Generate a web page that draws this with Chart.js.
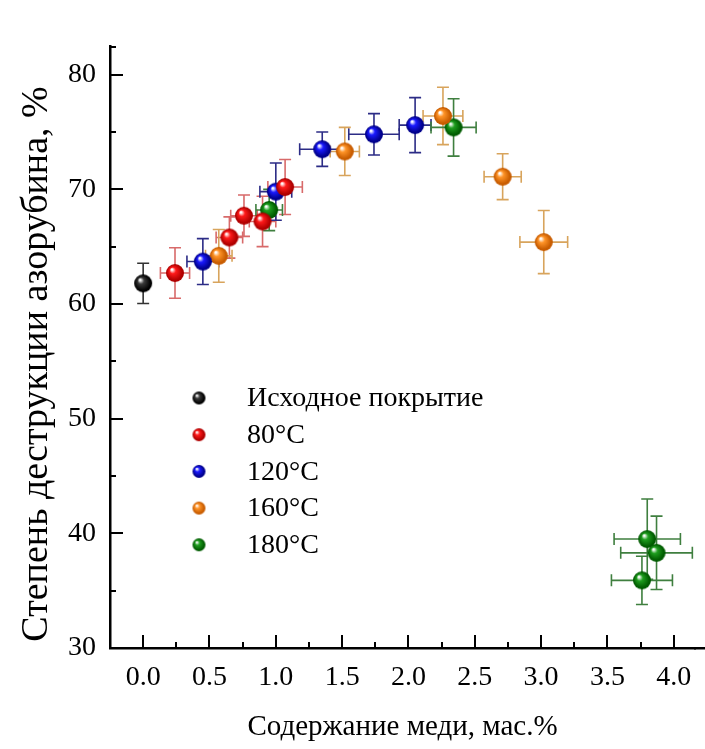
<!DOCTYPE html>
<html lang="ru">
<head>
    <meta charset="UTF-8">
    <title>Степень деструкции азорубина</title>
    <script src="https://cdn.jsdelivr.net/npm/chart.js"></script>
    <style>
        body {
            margin: 0;
            background: #fff;
            overflow: hidden;
        }
    </style>
</head>
<body>
    <canvas id="chart" width="705" height="749"></canvas>

    <script>
        // data
        const seriesNames = ['Исходное покрытие', '80°C', '120°C', '160°C', '180°C'];

        const baseX = [0.0];
        const baseY = [61.8];
        const baseXErr = [0];
        const baseYErr = [1.75];

        const t80X = [0.24, 0.65, 0.76, 0.90, 1.07];
        const t80Y = [62.7, 65.8, 67.7, 67.2, 70.2];
        const t80XErr = [0.11, 0.10, 0.10, 0.10, 0.13];
        const t80YErr = [2.2, 1.8, 1.8, 2.2, 2.4];

        const t120X = [0.45, 1.00, 1.35, 1.74, 2.05];
        const t120Y = [63.7, 69.8, 73.5, 74.8, 75.6];
        const t120XErr = [0.12, 0.12, 0.17, 0.19, 0.12];
        const t120YErr = [2.0, 2.5, 1.5, 1.8, 2.4];

        const t160X = [0.57, 1.52, 2.26, 2.71, 3.02];
        const t160Y = [64.2, 73.3, 76.4, 71.1, 65.4];
        const t160XErr = [0.10, 0.11, 0.15, 0.14, 0.18];
        const t160YErr = [2.3, 2.1, 2.5, 2.0, 2.75];

        const t180X = [0.95, 2.34, 3.80, 3.87, 3.76];
        const t180Y = [68.2, 75.4, 39.5, 38.3, 35.9];
        const t180XErr = [0.10, 0.17, 0.25, 0.27, 0.23];
        const t180YErr = [1.8, 2.5, 3.5, 3.2, 2.1];

        const xTicks = [0.0, 0.5, 1.0, 1.5, 2.0, 2.5, 3.0, 3.5, 4.0];
        const yTicks = [30, 40, 50, 60, 70, 80];

        const yTitle = 'Степень деструкции азорубина, %';
        const serif = "'Liberation Serif', 'DejaVu Serif', serif";

        // shaded ball used as marker
        function makeBall(color, dark, r) {
            const c = document.createElement('canvas');
            c.width = c.height = 2 * r + 2;
            const g = c.getContext('2d');
            const cx = r + 1, cy = r + 1;
            const grad = g.createRadialGradient(cx - r * 0.35, cy - r * 0.4, r * 0.08, cx, cy, r);
            grad.addColorStop(0, '#ffffff');
            grad.addColorStop(0.3, color);
            grad.addColorStop(0.85, dark);
            grad.addColorStop(1, dark);
            g.fillStyle = grad;
            g.beginPath();
            g.arc(cx, cy, r, 0, Math.PI * 2);
            g.fill();
            return c;
        }

        const colors = [
            { main: '#3a3a3a', dark: '#000000', err: '#333333' },
            { main: '#ff1a1a', dark: '#b00000', err: '#d86a6a' },
            { main: '#1a1aff', dark: '#00008c', err: '#2c2c86' },
            { main: '#ff9428', dark: '#c85c00', err: '#d8a45c' },
            { main: '#1f9e1f', dark: '#005c00', err: '#3f7f3f' }
        ];

        function pts(xs, ys) {
            return xs.map((x, i) => ({ x: x, y: ys[i] }));
        }

        const allX = [baseX, t80X, t120X, t160X, t180X];
        const allY = [baseY, t80Y, t120Y, t160Y, t180Y];
        const allXErr = [baseXErr, t80XErr, t120XErr, t160XErr, t180XErr];
        const allYErr = [baseYErr, t80YErr, t120YErr, t160YErr, t180YErr];

        const datasets = seriesNames.map((name, i) => ({
            label: name,
            data: pts(allX[i], allY[i]),
            xErr: allXErr[i],
            yErr: allYErr[i],
            errColor: colors[i].err,
            pointStyle: makeBall(colors[i].main, colors[i].dark, 9),
            legendBall: makeBall(colors[i].main, colors[i].dark, 6.5),
            showLine: false
        }));

        // error bars, drawn under the balls
        const errorBars = {
            id: 'errorBars',
            beforeDatasetsDraw(chart) {
                const ctx = chart.ctx;
                const xs = chart.scales.x, ys = chart.scales.y;
                const cap = 6;
                ctx.save();
                ctx.lineWidth = 1.6;
                chart.data.datasets.forEach(ds => {
                    ctx.strokeStyle = ds.errColor;
                    ds.data.forEach((p, i) => {
                        const px = xs.getPixelForValue(p.x);
                        const py = ys.getPixelForValue(p.y);
                        const ex = ds.xErr[i], ey = ds.yErr[i];
                        ctx.beginPath();
                        if (ey) {
                            const y1 = ys.getPixelForValue(p.y + ey);
                            const y2 = ys.getPixelForValue(p.y - ey);
                            ctx.moveTo(px, y1); ctx.lineTo(px, y2);
                            ctx.moveTo(px - cap, y1); ctx.lineTo(px + cap, y1);
                            ctx.moveTo(px - cap, y2); ctx.lineTo(px + cap, y2);
                        }
                        if (ex) {
                            const x1 = xs.getPixelForValue(p.x - ex);
                            const x2 = xs.getPixelForValue(p.x + ex);
                            ctx.moveTo(x1, py); ctx.lineTo(x2, py);
                            ctx.moveTo(x1, py - cap); ctx.lineTo(x1, py + cap);
                            ctx.moveTo(x2, py - cap); ctx.lineTo(x2, py + cap);
                        }
                        ctx.stroke();
                    });
                });
                ctx.restore();
            }
        };

        // inward tick marks (major + minor) on both axes, plus the y title
        const innerTicks = {
            id: 'innerTicks',
            afterDraw(chart) {
                const ctx = chart.ctx;
                const xs = chart.scales.x, ys = chart.scales.y;
                const a = chart.chartArea;
                ctx.save();
                ctx.strokeStyle = '#000';
                ctx.lineWidth = 2;
                ctx.beginPath();
                for (let v = 0; v <= xs.max + 1e-9; v += 0.25) {
                    const px = Math.round(xs.getPixelForValue(v));
                    const len = Math.abs(v * 2 - Math.round(v * 2)) < 1e-6 ? 13 : 6;
                    ctx.moveTo(px, a.bottom); ctx.lineTo(px, a.bottom - len);
                }
                for (let v = 35; v <= ys.max + 1e-9; v += 5) {
                    const py = Math.round(ys.getPixelForValue(v));
                    const len = v % 10 === 0 ? 13 : 6;
                    ctx.moveTo(a.left, py); ctx.lineTo(a.left + len, py);
                }
                ctx.moveTo(a.left, a.top + 1); ctx.lineTo(a.left + 6, a.top + 1);
                ctx.stroke();

                // the bottom axis runs on to the edge of the figure
                ctx.lineWidth = 2.5;
                ctx.beginPath();
                ctx.moveTo(a.right - 1, a.bottom + 0.25);
                ctx.lineTo(chart.width, a.bottom + 0.25);
                ctx.stroke();

                ctx.translate(37, 364);
                ctx.rotate(-Math.PI / 2);
                ctx.font = '38px ' + serif;
                ctx.fillStyle = '#000';
                ctx.textAlign = 'center';
                ctx.textBaseline = 'middle';
                ctx.fillText(yTitle, 0, 0);
                ctx.restore();
            }
        };

        // legend sitting inside the plot
        const innerLegend = {
            id: 'innerLegend',
            afterDraw(chart) {
                const ctx = chart.ctx;
                ctx.save();
                ctx.font = '28px ' + serif;
                ctx.fillStyle = '#000';
                ctx.textBaseline = 'middle';
                chart.data.datasets.forEach((ds, i) => {
                    const y = 398 + i * 36.7;
                    const b = ds.legendBall;
                    ctx.drawImage(b, 199 - b.width / 2, y - b.height / 2);
                    ctx.fillText(ds.label, 247, y + 1);
                });
                ctx.restore();
            }
        };

        new Chart(document.getElementById('chart'), {
            type: 'scatter',
            data: { datasets: datasets },
            plugins: [errorBars, innerTicks, innerLegend],
            options: {
                responsive: false,
                animation: false,
                layout: { padding: { top: 46, right: 2, left: 0, bottom: 0 } },
                plugins: {
                    legend: { display: false },
                    tooltip: { enabled: false }
                },
                elements: { point: { radius: 9 } },
                scales: {
                    x: {
                        type: 'linear',
                        min: -0.25,
                        max: 4.16,
                        afterBuildTicks: s => { s.ticks = xTicks.map(v => ({ value: v })); },
                        afterFit: s => { s.height = 101; s.paddingLeft = 0; s.paddingRight = 0; },
                        grid: { drawOnChartArea: false, drawTicks: false },
                        border: { color: '#000', width: 2.5 },
                        ticks: {
                            padding: 13,
                            color: '#000',
                            font: { family: serif, size: 28 },
                            callback: v => v.toFixed(1)
                        },
                        title: {
                            display: true,
                            text: 'Содержание меди, мас.%',
                            color: '#000',
                            font: { family: serif, size: 29 },
                            padding: { top: 0, bottom: 4 }
                        }
                    },
                    y: {
                        type: 'linear',
                        min: 30,
                        max: 82.5,
                        afterBuildTicks: s => { s.ticks = yTicks.map(v => ({ value: v })); },
                        afterFit: s => { s.width = 110; s.paddingTop = 0; s.paddingBottom = 0; },
                        grid: { drawOnChartArea: false, drawTicks: false },
                        border: { color: '#000', width: 2.5 },
                        ticks: {
                            padding: 14,
                            color: '#000',
                            font: { family: serif, size: 28 },
                            callback: v => String(v)
                        }
                    }
                }
            }
        });
    </script>
</body>
</html>
